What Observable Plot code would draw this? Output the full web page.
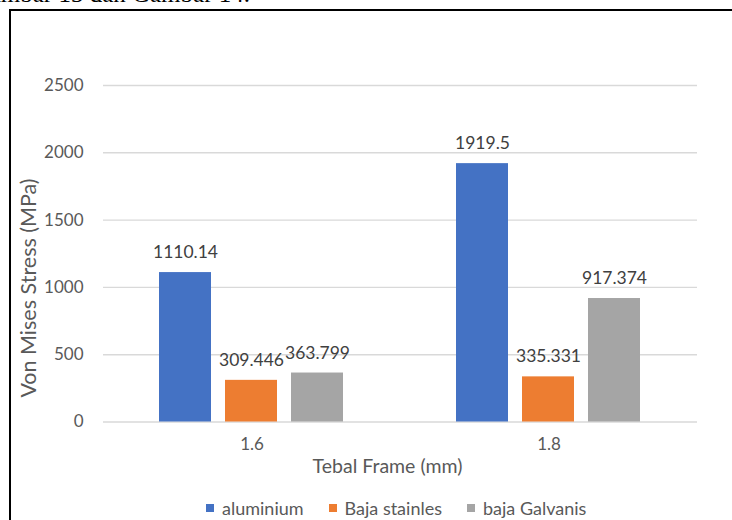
<!DOCTYPE html>
<html>
<head>
<meta charset="utf-8">
<script src="https://cdn.jsdelivr.net/npm/d3@7"></script>
<script src="https://cdn.jsdelivr.net/npm/@observablehq/plot@0.6"></script>
<style>
  html, body { margin: 0; padding: 0; background: #fff; overflow: hidden; }
  #page { position: relative; width: 732px; height: 520px; overflow: hidden; font-family: Lato, "Open Sans", sans-serif; }
  #frame { position: absolute; left: 9px; top: 9px; width: 800px; height: 600px; border-left: 2px solid #000; border-top: 2px solid #000; box-sizing: border-box; }
  #doctext { position: absolute; right: 482px; top: -19px; font-family: "Liberation Serif", serif; font-size: 25px; line-height: 25px; white-space: nowrap; color: #000; }
  #chart { position: absolute; left: 0; top: 0; }
  #ytitle { position: absolute; left: 28px; top: 288px; transform: translate(-50%, -50%) rotate(-90deg); white-space: nowrap; font-size: 21.5px; color: #595959; }
  #xtitle { position: absolute; left: 387.5px; top: 465px; transform: translate(-50%, -50%); white-space: nowrap; font-size: 19.5px; color: #595959; }
  #legend { position: absolute; left: 206px; top: 498px; height: 20px; display: flex; align-items: center; font-size: 18px; color: #595959; white-space: nowrap; }
  .item { display: flex; align-items: center; margin-right: 25px; }
  .sw { width: 8px; height: 8px; margin-right: 8px; }
</style>
</head>
<body>
<div id="page">
  <div id="doctext">Gambar 13 dan Gambar 14.</div>
  <div id="frame"></div>
  <div id="chart"></div>
  <div id="ytitle"></div>
  <div id="xtitle"></div>
  <div id="legend"></div>
</div>
<script>
// ---- data ----
const categories = ["1.6", "1.8"];
const series = ["aluminium", "Baja stainles", "baja Galvanis"];
const aluminium = [1110.14, 1919.5];
const bajaStainles = [309.446, 335.331];
const bajaGalvanis = [363.799, 917.374];
const yTicks = [0, 500, 1000, 1500, 2000, 2500];
const colors = ["#4472c4", "#ed7d31", "#a5a5a5"];
const yTitle = "Von Mises Stress (MPa)";
const xTitle = "Tebal Frame (mm)";

const seriesValues = [aluminium, bajaStainles, bajaGalvanis];
const rows = categories.flatMap((c, i) =>
  series.map((s, j) => ({ frame: c, series: s, value: seriesValues[j][i] }))
);

const chart = Plot.plot({
  width: 732,
  height: 475,
  marginLeft: 103,
  marginRight: 35,
  marginTop: 85,
  marginBottom: 53.5,
  style: { fontFamily: "Lato, 'Open Sans', sans-serif", fontSize: "17px", color: "#595959", background: "transparent" },
  fx: { domain: categories, paddingInner: 0, paddingOuter: 0, label: null },
  x: { domain: series, paddingInner: 0.212, paddingOuter: 0.856, axis: null },
  y: { domain: [0, 2500], label: null },
  color: { domain: series, range: colors },
  marks: [
    Plot.gridY(yTicks, { stroke: "#d9d9d9", strokeOpacity: 1, strokeWidth: 1.4 }),
    Plot.axisY(yTicks, { tickSize: 0, tickPadding: 20, label: null, fontSize: 17, tickFormat: d => String(d) }),
    Plot.axisFx({ anchor: "bottom", tickSize: 0, tickPadding: 16, label: null, fontSize: 17 }),
    Plot.barY(rows, { fx: "frame", x: "series", y: "value", fill: "series" }),
    Plot.text(rows, { fx: "frame", x: "series", y: "value", text: d => String(d.value), dy: -20, fill: "#404040", fontSize: 17.5 })
  ]
});
document.getElementById("chart").appendChild(chart);
document.getElementById("ytitle").textContent = yTitle;
document.getElementById("xtitle").textContent = xTitle;

const legend = document.getElementById("legend");
series.forEach((s, i) => {
  const item = document.createElement("div");
  item.className = "item";
  const sw = document.createElement("span");
  sw.className = "sw";
  sw.style.background = colors[i];
  const t = document.createElement("span");
  t.textContent = s;
  item.appendChild(sw);
  item.appendChild(t);
  legend.appendChild(item);
});
</script>
</body>
</html>
